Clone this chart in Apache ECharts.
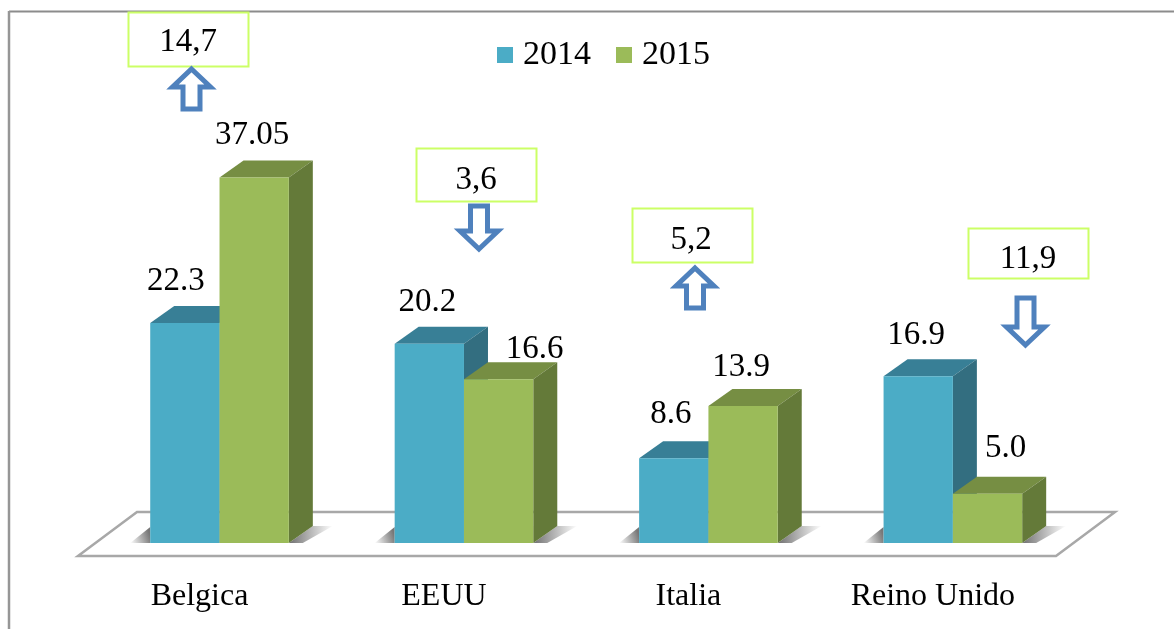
<!DOCTYPE html>
<html>
<head>
<meta charset="utf-8">
<script src="https://cdn.jsdelivr.net/npm/echarts@6/dist/echarts.min.js"></script>
<style>html,body{margin:0;padding:0;background:#fff}#c{width:1174px;height:629px}</style>
</head>
<body>
<div id="c"></div>
<script>
var categories = ['Belgica', 'EEUU', 'Italia', 'Reino Unido'];
var legendNames = ['2014', '2015'];
var values2014 = [22.3, 20.2, 8.6, 16.9];
var values2015 = [37.05, 16.6, 13.9, 5.0];
var changeLabels = ['14,7', '3,6', '5,2', '11,9'];
var changeDirections = ['up', 'down', 'up', 'down'];

// layout and styling, kept apart from the data
var serif = '"Liberation Serif", serif';
var depthX = 24, depthY = 17;
var labelShift = [[[-9, 42], [-2, 41], [-3, 44], [-2, 41]], [[-2, 42], [36, 30], [-2, 39], [18, 45]]];
var boxes = [[128, 12, 120, 54], [416, 148, 120, 53], [632, 208, 120, 54], [968, 228, 120, 50]];
var boxTextCentre = [[188, 42], [476, 180], [691, 240], [1028, 259]];
var arrowAnchors = [[191.5, 69], [479, 249], [695, 268], [1025.5, 345]];
var arrowLengths = [40, 43, 40, 47];
var palette = [
  { front: '#4BACC6', side: '#336E80', top: '#387F96' },
  { front: '#9BBB59', side: '#647A39', top: '#768E43' }
];

function renderBar(params, api) {
  var s = params.seriesIndex;
  var i = api.value(0), v = api.value(1);
  var c = palette[s];
  var band = api.size([1, 0])[0];
  var w = band * 0.2835;
  var centre = api.coord([i, 0])[0];
  var base = api.coord([i, 0])[1];
  var top = api.coord([i, v])[1];
  var x = s === 0 ? centre - w : centre;
  var r = x + w;
  var kids = [];
  if (s === 0) {
    kids.push({ type: 'polygon', silent: true,
      shape: { points: [[x, base], [x, base - 16], [x - 20, base]] },
      style: { fill: { type: 'linear', x: 1, y: 0.6, x2: 0, y2: 1, colorStops: [{ offset: 0, color: '#777777' }, { offset: 1, color: '#ffffff' }] } } });
  } else {
    kids.push({ type: 'polygon', silent: true,
      shape: { points: [[r, base], [r + depthX, base - depthY], [r + depthX + 20, base - depthY], [r + 14, base]] },
      style: { fill: { type: 'linear', x: 0, y: 0.5, x2: 1, y2: 0.5, colorStops: [{ offset: 0, color: '#707070' }, { offset: 1, color: '#ffffff' }] } } });
  }
  kids.push({ type: 'polygon', shape: { points: [[x, top], [x + depthX, top - depthY], [r + depthX, top - depthY], [r, top]] }, style: { fill: c.top } });
  kids.push({ type: 'polygon', shape: { points: [[r, top], [r + depthX, top - depthY], [r + depthX, base - depthY], [r, base]] }, style: { fill: c.side } });
  kids.push({ type: 'rect', shape: { x: x, y: top, width: w, height: base - top }, style: { fill: c.front } });
  var sh = labelShift[s][i];
  kids.push({ type: 'text', z2: 50, style: {
    text: Number.isInteger(v) ? v.toFixed(1) : String(v),
    x: x + w / 2 + sh[0], y: top - sh[1], font: '33px ' + serif, fill: '#000', align: 'center', verticalAlign: 'middle' } });
  return { type: 'group', children: kids };
}

function arrowPoints(cx, tip, dir, len) {
  var d = dir === 'up' ? 1 : -1;
  return [[cx, tip], [cx + 19, tip + d * 18], [cx + 8.5, tip + d * 18], [cx + 8.5, tip + d * len],
          [cx - 8.5, tip + d * len], [cx - 8.5, tip + d * 18], [cx - 19, tip + d * 18]];
}

var graphics = [
  { type: 'line', z: 0, silent: true, shape: { x1: 9, y1: 11.5, x2: 1174, y2: 11.5 }, style: { stroke: '#8c8c8c', lineWidth: 2 } },
  { type: 'line', z: 0, silent: true, shape: { x1: 9, y1: 11, x2: 9, y2: 629 }, style: { stroke: '#969696', lineWidth: 2.5 } },
  { type: 'polygon', z: 0, silent: true, shape: { points: [[78, 556], [137, 512], [1115, 512], [1056, 556]] },
    style: { fill: '#fff', stroke: '#a8a8a8', lineWidth: 2.5 } }
];
changeLabels.forEach(function (t, i) {
  graphics.push({ type: 'rect', z: 20, silent: true,
    shape: { x: boxes[i][0] + 0.5, y: boxes[i][1] + 0.5, width: boxes[i][2], height: boxes[i][3] },
    style: { fill: '#fff', stroke: '#CCFF66', lineWidth: 2 } });
  graphics.push({ type: 'text', z: 21, silent: true,
    style: { text: t, x: boxTextCentre[i][0], y: boxTextCentre[i][1], font: '33px ' + serif, fill: '#000', align: 'center', verticalAlign: 'middle' } });
  graphics.push({ type: 'polygon', z: 22, silent: true,
    shape: { points: arrowPoints(arrowAnchors[i][0], arrowAnchors[i][1], changeDirections[i], arrowLengths[i]) },
    style: { fill: '#fff', stroke: '#4F81BD', lineWidth: 5, lineJoin: 'miter' } });
});

var chart = echarts.init(document.getElementById('c'), null, { renderer: 'canvas' });
chart.setOption({
  animation: false,
  backgroundColor: '#fff',
  legend: {
    left: 492, top: 33, itemWidth: 16, itemHeight: 16, itemGap: 25, icon: 'rect',
    data: legendNames,
    textStyle: { fontFamily: serif, fontSize: 34, color: '#000', padding: [0, 0, 0, 5] }
  },
  grid: { left: 97.3, right: 98.9, top: 148.5, bottom: 86 },
  xAxis: {
    type: 'category', data: categories,
    axisLine: { show: false }, axisTick: { show: false },
    axisLabel: { fontFamily: serif, fontSize: 32, color: '#000', margin: 38, padding: [0, 40, 0, 0] }
  },
  yAxis: { type: 'value', min: 0, max: 40, show: false, splitLine: { show: false } },
  series: [
    { name: legendNames[0], type: 'custom', renderItem: renderBar, z: 5, clip: false,
      itemStyle: { color: palette[0].front }, encode: { x: 0, y: 1 },
      data: values2014.map(function (v, i) { return [i, v]; }) },
    { name: legendNames[1], type: 'custom', renderItem: renderBar, z: 6, clip: false,
      itemStyle: { color: palette[1].front }, encode: { x: 0, y: 1 },
      data: values2015.map(function (v, i) { return [i, v]; }) }
  ],
  graphic: { elements: graphics }
});
</script>
</body>
</html>
